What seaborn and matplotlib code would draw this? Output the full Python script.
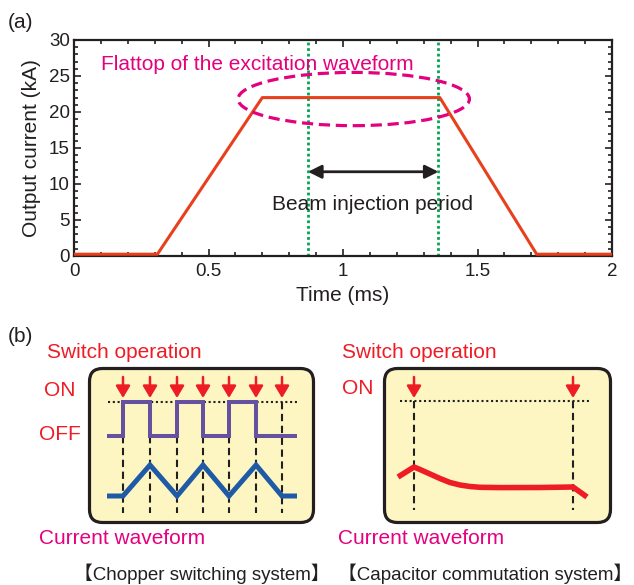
import matplotlib
matplotlib.use('Agg')
import matplotlib.pyplot as plt
import seaborn as sns
from matplotlib.patches import Ellipse, FancyBboxPatch
from matplotlib.ticker import MultipleLocator

# ---------------- data: panel (a) ----------------
time_ms = [0.0, 0.31, 0.70, 1.36, 1.72, 2.0]
current_kA = [0.25, 0.25, 22.0, 22.0, 0.25, 0.25]
injection_bounds = [0.87, 1.355]
arrow_level_kA = 11.7
flattop_center = (1.04, 21.8)
flattop_size = (0.86, 7.4)
x_ticks = [0, 0.5, 1, 1.5, 2]
x_ticklabels = ['0', '0.5', '1', '1.5', '2']
y_ticks = [0, 5, 10, 15, 20, 25, 30]
y_ticklabels = ['0', '5', '10', '15', '20', '25', '30']

# ---------------- data: panel (b) schematics (drawing units) ----------------
chopper_switch_x = [123, 150, 177, 203, 229, 256, 282]
square_x = [107, 123, 123, 150, 150, 177, 177, 203, 203, 229, 229, 256, 256, 297]
square_state = [0, 0, 1, 1, 0, 0, 1, 1, 0, 0, 1, 1, 0, 0]
tri_x = [107, 123, 150, 177, 203, 229, 256, 282, 297]
tri_state = [0, 0, 1, 0, 1, 0, 1, 0, 0]
cap_switch_x = [414, 573]
cap_x = [398, 414, 420, 430, 440, 450, 460, 470, 480, 500, 540, 573, 587]
cap_y = [477, 467, 469.5, 474, 478.5, 482.5, 485, 486.5, 487.3, 487.6, 487.5, 487, 497]

# ---------------- style ----------------
sns.set_style('ticks')
plt.rcParams['font.family'] = ['Liberation Sans', 'Noto Sans CJK JP', 'DejaVu Sans']
DARK = '#231f20'
RED = '#ee1c25'
MAGENTA = '#e4007f'
PURPLE = '#6650a0'
BLUE = '#1f5aa6'
GREEN = '#00a651'
TRACE = '#e8401c'
YELLOW = '#fdf6c3'

W, H = 634, 585
fig = plt.figure(figsize=(W / 100, H / 100), dpi=100)
fig.patch.set_facecolor('white')

# ---------------- panel (a) ----------------
ax = fig.add_axes([74 / W, 1 - 256 / H, (612 - 74) / W, (256 - 40) / H])
ax.set_facecolor('white')
sns.lineplot(x=time_ms, y=current_kA, ax=ax, color=TRACE, lw=2.2, zorder=3)
ax.set_xlim(0, 2)
ax.set_ylim(0, 30)
ax.set_xticks(x_ticks, labels=x_ticklabels)
ax.set_yticks(y_ticks, labels=y_ticklabels)
ax.xaxis.set_minor_locator(MultipleLocator(0.1))
ax.yaxis.set_minor_locator(MultipleLocator(1))
ax.tick_params(which='both', direction='in', top=True, right=True, bottom=True, left=True,
               width=1.2, color=DARK, labelcolor=DARK, labelsize=13.5)
ax.tick_params(which='major', length=5)
ax.tick_params(which='minor', length=3)
ax.tick_params(axis='x', pad=5)
ax.tick_params(axis='y', pad=3)
for s in ax.spines.values():
    s.set_linewidth(1.6)
    s.set_color(DARK)
    s.set_visible(True)

ax.set_xlabel('Time (ms)', fontsize=15, color=DARK)
ax.xaxis.set_label_coords(0.5, (256 - 286) / 216)
ax.set_ylabel('Output current (kA)', fontsize=15, color=DARK)
ax.yaxis.set_label_coords((41 - 74) / 538, 0.5)

for xv in injection_bounds:
    ax.axvline(xv, color=GREEN, lw=2.0, ls=(0, (1, 1)), zorder=2)

ax.annotate('', xy=(injection_bounds[0], arrow_level_kA),
            xytext=(injection_bounds[1], arrow_level_kA),
            arrowprops=dict(arrowstyle='<|-|>,head_length=0.8,head_width=0.4',
                            color=DARK, lw=2, shrinkA=0, shrinkB=0))
ax.text(1.108, 7.2, 'Beam injection period', ha='center', va='center',
        fontsize=15, color=DARK)
ax.text(0.1, 26.6, 'Flattop of the excitation waveform', ha='left', va='center',
        fontsize=15, color=MAGENTA)
ax.add_patch(Ellipse(flattop_center, flattop_size[0], flattop_size[1], fill=False,
                     ec=MAGENTA, lw=2.3, ls=(0, (3.5, 1.8)), zorder=4))

# ---------------- panel (b) overlay in pixel units ----------------
axb = fig.add_axes([0, 0, 1, 1])
axb.set_xlim(0, W)
axb.set_ylim(H, 0)
axb.axis('off')

axb.text(8, 22, '(a)', ha='left', va='center', fontsize=15, color=DARK)
axb.text(8, 336, '(b)', ha='left', va='center', fontsize=15, color=DARK)

ON_Y, OFF_Y = 402, 436
TRI_LOW, TRI_HIGH = 496, 465
ARROW_TOP, ARROW_TIP = 377, 398
DASH_BOTTOM = 513


def box(x0, x1):
    axb.add_patch(FancyBboxPatch((x0 + 1.5, 368.5), x1 - x0 - 3, 154,
                                 boxstyle='round,pad=0,rounding_size=13',
                                 fc=YELLOW, ec=DARK, lw=2.3, zorder=1))


def switch_arrow(x):
    axb.annotate('', xy=(x, ARROW_TIP), xytext=(x, ARROW_TOP),
                 arrowprops=dict(arrowstyle='-|>,head_length=0.72,head_width=0.43',
                                 color=RED, lw=1.8, shrinkA=0, shrinkB=0), zorder=5)


# left box: chopper switching
box(88, 315)
axb.hlines(ON_Y, 108, 297, color=DARK, lw=1.5, ls=(0, (1, 1.3)), zorder=2)
for i, xv in enumerate(chopper_switch_x):
    y0 = ON_Y if i == len(chopper_switch_x) - 1 else OFF_Y
    axb.vlines(xv, y0, DASH_BOTTOM, color=DARK, lw=1.5, ls=(0, (3.5, 2.2)), zorder=2)
    switch_arrow(xv)
sq_y = [ON_Y if s else OFF_Y for s in square_state]
sns.lineplot(x=square_x, y=sq_y, ax=axb, sort=False, estimator=None, color=PURPLE,
             lw=2.9, solid_joinstyle='miter', solid_capstyle='butt', zorder=3)
tr_y = [TRI_HIGH if s else TRI_LOW for s in tri_state]
sns.lineplot(x=tri_x, y=tr_y, ax=axb, sort=False, estimator=None, color=BLUE,
             lw=3.6, solid_joinstyle='miter', solid_capstyle='butt', zorder=3)

# right box: capacitor commutation
box(383, 612)
axb.hlines(ON_Y - 1, 400, 590, color=DARK, lw=1.5, ls=(0, (1, 1.3)), zorder=2)
for xv in cap_switch_x:
    axb.vlines(xv, ON_Y - 1, 510, color=DARK, lw=1.5, ls=(0, (3.5, 2.2)), zorder=2)
    switch_arrow(xv)
sns.lineplot(x=cap_x, y=cap_y, ax=axb, sort=False, estimator=None, color=RED,
             lw=4.0, solid_joinstyle='round', solid_capstyle='butt', zorder=3)
axb.set_xlim(0, W)
axb.set_ylim(H, 0)

# labels panel (b)
for x0 in (47, 342):
    axb.text(x0, 353, 'Switch operation', ha='left', va='center', fontsize=15, color=RED)
axb.text(44, 391, 'ON', ha='left', va='center', fontsize=15, color=RED)
axb.text(342, 389, 'ON', ha='left', va='center', fontsize=15, color=RED)
axb.text(39, 435, 'OFF', ha='left', va='center', fontsize=15, color=RED)
axb.text(39, 538, 'Current waveform', ha='left', va='center', fontsize=15, color=MAGENTA)
axb.text(338, 538, 'Current waveform', ha='left', va='center', fontsize=15, color=MAGENTA)
axb.text(202, 574, '【Chopper switching system】', ha='center', va='center',
         fontsize=13.5, color=DARK)
axb.text(632, 574, '【Capacitor commutation system】', ha='right', va='center',
         fontsize=13.5, color=DARK)

fig.savefig('out.png', dpi=100)
